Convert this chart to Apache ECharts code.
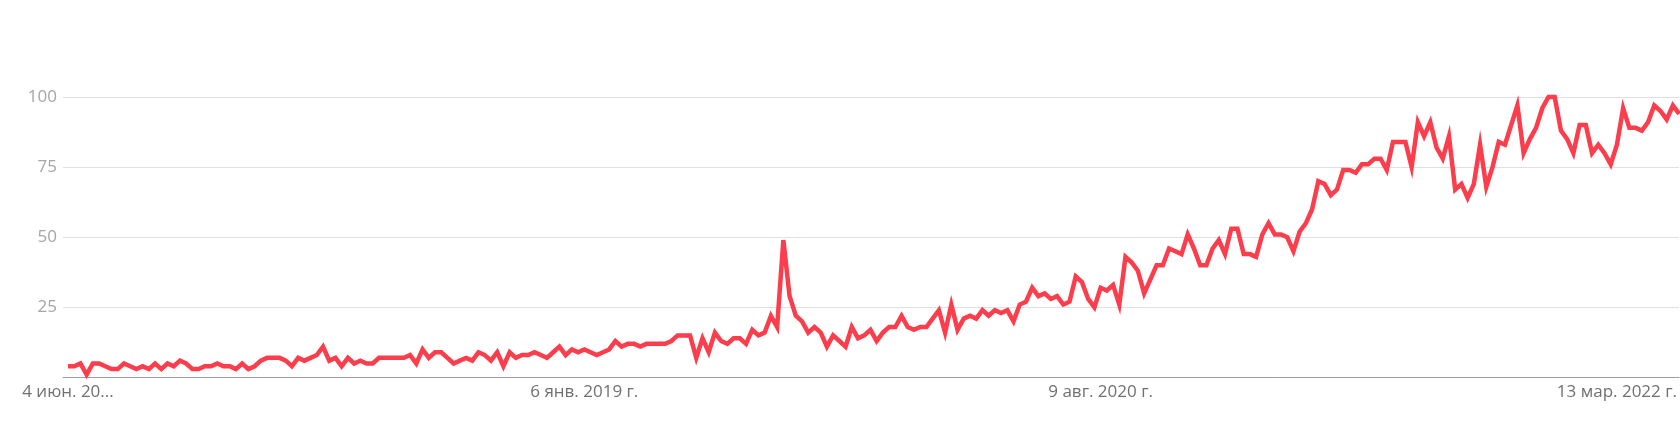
<!DOCTYPE html>
<html>
<head>
<meta charset="utf-8">
<style>
  html, body { margin: 0; padding: 0; background: #ffffff; }
  #chart { width: 1680px; height: 427px; }
</style>
<script src="https://cdn.jsdelivr.net/npm/echarts@6/dist/echarts.min.js"></script>
</head>
<body>
<div id="chart"></div>
<script>
// Weekly interest values (week index 0 = 4 июн. 2017 г.)
const values = [
  4, 4, 5, 1, 5, 5, 4, 3, 3, 5, 4, 3, 4, 3, 5, 3, 5, 4, 6, 5,
  3, 3, 4, 4, 5, 4, 4, 3, 5, 3, 4, 6, 7, 7, 7, 6, 4, 7, 6, 7,
  8, 11, 6, 7, 4, 7, 5, 6, 5, 5, 7, 7, 7, 7, 7, 8, 5, 10, 7, 9,
  9, 7, 5, 6, 7, 6, 9, 8, 6, 9, 4, 9, 7, 8, 8, 9, 8, 7, 9, 11,
  8, 10, 9, 10, 9, 8, 9, 10, 13, 11, 12, 12, 11, 12, 12, 12, 12, 13, 15, 15,
  15, 7, 14, 9, 16, 13, 12, 14, 14, 12, 17, 15, 16, 22, 18, 49, 29, 22, 20, 16,
  18, 16, 11, 15, 13, 11, 18, 14, 15, 17, 13, 16, 18, 18, 22, 18, 17, 18, 18, 21,
  24, 16, 26, 17, 21, 22, 21, 24, 22, 24, 23, 24, 20, 26, 27, 32, 29, 30, 28, 29,
  26, 27, 36, 34, 28, 25, 32, 31, 33, 26, 43, 41, 38, 30, 35, 40, 40, 46, 45, 44,
  51, 46, 40, 40, 46, 49, 44, 53, 53, 44, 44, 43, 51, 55, 51, 51, 50, 45, 52, 55,
  60, 70, 69, 65, 67, 74, 74, 73, 76, 76, 78, 78, 74, 84, 84, 84, 75, 91, 86, 91,
  82, 78, 86, 67, 69, 64, 69, 83, 68, 75, 84, 83, 90, 97, 80, 85, 89, 96, 100, 100,
  88, 85, 80, 90, 90, 80, 83, 80, 76, 83, 96, 89, 89, 88, 91, 97, 95, 92, 97, 94
];
const tickWeeks = [0, 83, 166, 249];
const tickLabels = ['4 июн. 20...', '6 янв. 2019 г.', '9 авг. 2020 г.', '13 мар. 2022 г.'];
const yTicks = [0, 25, 50, 75, 100];

const seriesData = values.map((v, i) => [i, v]);

const chart = echarts.init(document.getElementById('chart'), null, { renderer: 'canvas' });
chart.setOption({
  animation: false,
  backgroundColor: '#ffffff',
  grid: { left: 63, right: 0, top: 97, bottom: 49.5, containLabel: false },
  xAxis: {
    type: 'value',
    min: -0.8,
    max: values.length - 1,
    splitLine: { show: false },
    axisTick: { show: false },
    axisLine: { show: true, lineStyle: { color: '#9e9e9e', width: 1 } },
    axisLabel: {
      customValues: tickWeeks,
      formatter: function (v) {
        const k = tickWeeks.indexOf(Math.round(v));
        return k >= 0 ? tickLabels[k] : '';
      },
      color: '#707070',
      fontFamily: 'Open Sans',
      fontSize: 17,
      margin: 6,
      showMinLabel: true,
      showMaxLabel: true,
      hideOverlap: false
    }
  },
  yAxis: {
    type: 'value',
    min: yTicks[0],
    max: yTicks[yTicks.length - 1],
    interval: 25,
    axisLine: { show: false },
    axisTick: { show: false },
    splitLine: { show: true, lineStyle: { color: '#e0e0e0', width: 1 } },
    axisLabel: {
      showMinLabel: false,
      color: '#a6a6a6',
      fontFamily: 'Open Sans',
      fontSize: 17,
      margin: 6
    }
  },
  series: [{
    type: 'line',
    data: seriesData,
    symbol: 'none',
    clip: false,
    lineStyle: { color: '#fc3d4c', width: 4.5, join: 'miter' }
  }]
});
</script>
</body>
</html>
